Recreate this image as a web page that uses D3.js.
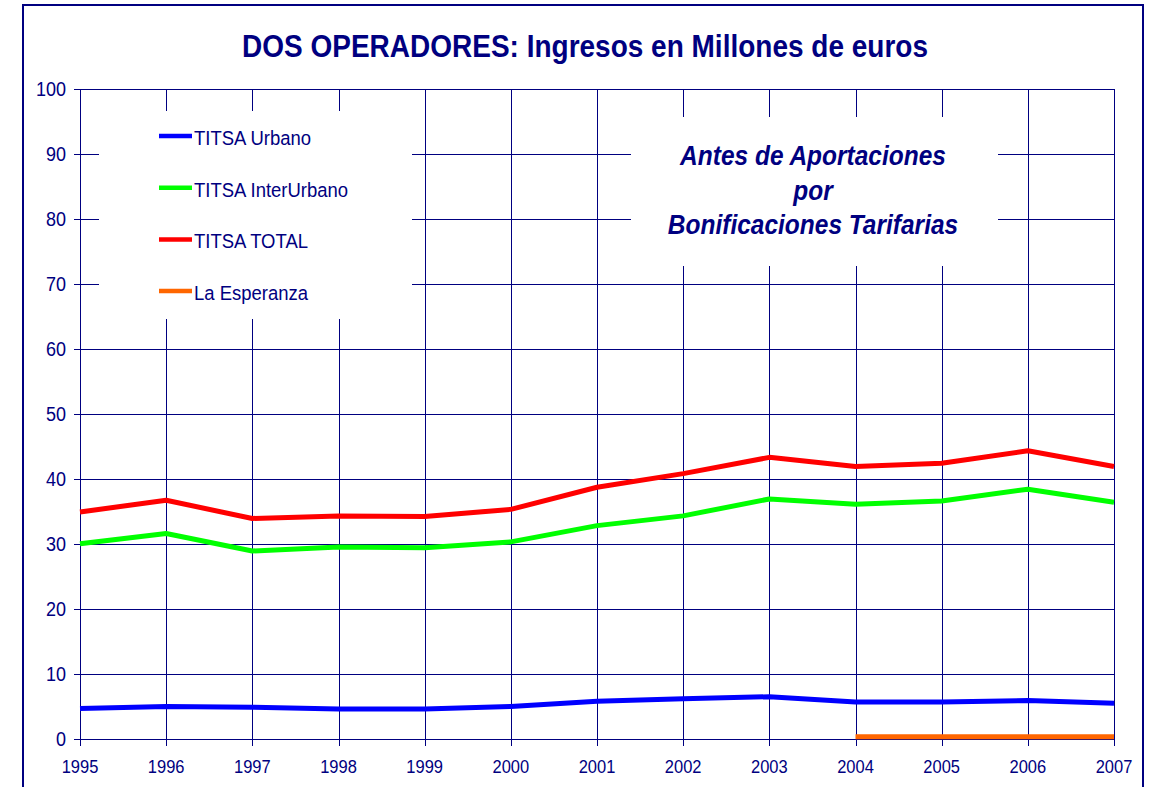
<!DOCTYPE html>
<html>
<head>
<meta charset="utf-8">
<script src="https://cdn.jsdelivr.net/npm/d3@7"></script>
<style>
	body { margin: 0; background: #ffffff; }
</style>
</head>
<body>
<div id="my_dataviz"></div>
<script>
// Daten
var years = [1995, 1996, 1997, 1998, 1999, 2000, 2001, 2002, 2003, 2004, 2005, 2006, 2007];
var yTicks = [0, 10, 20, 30, 40, 50, 60, 70, 80, 90, 100];
var seriesNames = ["TITSA Urbano", "TITSA InterUrbano", "TITSA TOTAL", "La Esperanza"];
var titsaUrbano = [4.7, 5.0, 4.9, 4.6, 4.6, 5.0, 5.8, 6.2, 6.5, 5.7, 5.7, 5.9, 5.5];
var titsaInterUrbano = [30.0, 31.6, 28.9, 29.5, 29.4, 30.3, 32.8, 34.3, 36.9, 36.1, 36.6, 38.4, 36.4];
var titsaTotal = [34.9, 36.7, 33.9, 34.3, 34.2, 35.3, 38.7, 40.8, 43.3, 41.9, 42.4, 44.3, 41.9];
var laEsperanza = [null, null, null, null, null, null, null, null, null, 0.35, 0.35, 0.35, 0.35];
var titleText = "DOS OPERADORES: Ingresos en Millones de euros";
var noteLines = ["Antes de Aportaciones", "por", "Bonificaciones Tarifarias"];

var navy = "#000080";
var colors = ["#0000ff", "#00ff00", "#ff0000", "#ff6600"];
var allSeries = [titsaUrbano, titsaInterUrbano, titsaTotal, laEsperanza];

// Text etwas hoeher gezogen wie im Original
function addText(parent, x, y, str, size, anchor, weight, style) {
	return parent.append("text")
		.attr("transform", "translate(" + x + "," + y + ") scale(1,1.12)")
		.attr("text-anchor", anchor)
		.style("font-family", "'Liberation Sans', Arial, sans-serif")
		.style("font-size", size + "px")
		.style("font-weight", weight || "normal")
		.style("font-style", style || "normal")
		.attr("fill", navy)
		.text(str);
}

var svg = d3.select("#my_dataviz")
	.append("svg")
	.attr("width", 1161)
	.attr("height", 787);

// Rahmen
svg.append("rect")
	.attr("x", 23)
	.attr("y", 5)
	.attr("width", 1120)
	.attr("height", 800)
	.attr("fill", "#ffffff")
	.attr("stroke", navy)
	.attr("stroke-width", 2);

// Skalen
var x = d3.scaleLinear()
	.domain([1995, 2007])
	.range([80, 1114]);

var y = d3.scaleLinear()
	.domain([0, 100])
	.range([739, 88.5]);

// Gitter
var grid = svg.append("g").attr("stroke", navy).attr("stroke-width", 1).attr("shape-rendering", "crispEdges");

grid.selectAll("line.h")
	.data(yTicks)
	.enter()
	.append("line")
	.attr("x1", 74)
	.attr("x2", 1114)
	.attr("y1", function(d) { return Math.round(y(d)) + 0.5 })
	.attr("y2", function(d) { return Math.round(y(d)) + 0.5 });

grid.selectAll("line.v")
	.data(years)
	.enter()
	.append("line")
	.attr("x1", function(d) { return Math.round(x(d)) + 0.5 })
	.attr("x2", function(d) { return Math.round(x(d)) + 0.5 })
	.attr("y1", y(100))
	.attr("y2", 746);

// weisse Kaesten fuer Legende und Hinweis
svg.append("rect")
	.attr("x", 99)
	.attr("y", 111)
	.attr("width", 313)
	.attr("height", 208)
	.attr("fill", "#ffffff");

svg.append("rect")
	.attr("x", 631)
	.attr("y", 117)
	.attr("width", 367)
	.attr("height", 149)
	.attr("fill", "#ffffff");

// Linien
var line = d3.line()
	.defined(function(d) { return d != null })
	.x(function(d, i) { return x(years[i]) })
	.y(function(d) { return y(d) });

svg.selectAll("path.series")
	.data(allSeries)
	.enter()
	.append("path")
	.attr("d", line)
	.attr("fill", "none")
	.attr("stroke", function(d, i) { return colors[i] })
	.attr("stroke-width", 5)
	.attr("stroke-linejoin", "round");

// Achsenbeschriftung
yTicks.forEach(function(t) {
	addText(svg, 66, y(t) + 7.3, t, 18, "end");
});

years.forEach(function(yr) {
	addText(svg, x(yr), 773, yr, 16.5, "middle");
});

// Titel
addText(svg, 585, 57, titleText, 28, "middle", "bold");

// Hinweis
noteLines.forEach(function(s, i) {
	addText(svg, 813, 165 + i * 34.5, s, 24.5, "middle", "bold", "italic");
});

// Legende
seriesNames.forEach(function(name, i) {
	var ly = 136 + i * 51.7;
	svg.append("line")
		.attr("x1", 159)
		.attr("x2", 192)
		.attr("y1", ly)
		.attr("y2", ly)
		.attr("stroke", colors[i])
		.attr("stroke-width", 4.5);
	addText(svg, 194, ly + 9, name, 18.5, "start");
});
</script>
</body>
</html>
